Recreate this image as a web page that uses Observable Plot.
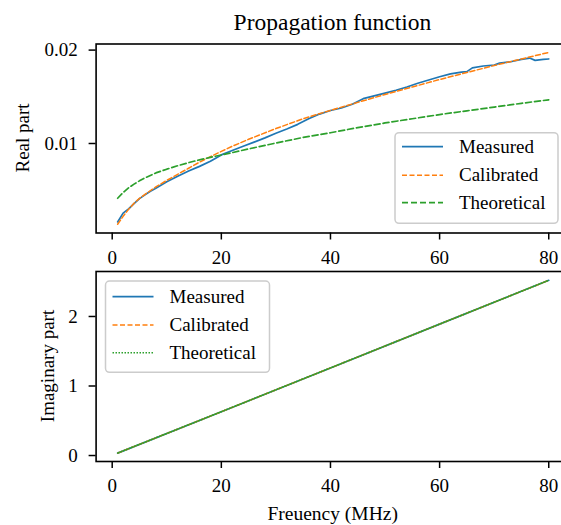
<!DOCTYPE html>
<html>
<head>
<meta charset="utf-8">
<script src="https://cdn.jsdelivr.net/npm/d3@7"></script>
<script src="https://cdn.jsdelivr.net/npm/@observablehq/plot@0.6"></script>
<style>
  html, body { margin: 0; padding: 0; background: white; overflow: hidden; }
  #wrap { position: relative; width: 561px; height: 525px; overflow: hidden; background: white; }
  #title { position: absolute; left: 0; top: 9px; width: 665px; text-align: center;
           font-family: "Liberation Serif", "Times New Roman", Times, serif; font-size: 23.5px; color: black; line-height: 26px; }
  #p1 { position: absolute; left: 0; top: 0; }
  #p2 { position: absolute; left: 0; top: 268px; }
  svg, svg text { font-family: "Liberation Serif", "Times New Roman", Times, serif !important; }
</style>
</head>
<body>
<div id="wrap">
  <div id="p1"></div>
  <div id="p2"></div>
  <div id="title">Propagation function</div>
</div>
<script>
// ---- data ----
const seriesNames = ["Measured", "Calibrated", "Theoretical"];
const xTicks = [0, 20, 40, 60, 80];
const realTicks = [0.01, 0.02];
const imagTicks = [0, 1, 2];

const freqMeasured = [1, 2, 3, 4, 5, 6, 7, 8, 9, 10, 12, 14, 16, 18, 20, 22, 24, 26, 28, 30, 32, 34, 36, 38, 40, 42, 44, 46, 48, 50, 52, 54, 56, 58, 60, 62, 64, 65, 66, 68, 70, 71, 73, 75, 76.5, 77.5, 79, 80];
const realMeasured = [0.00160, 0.00255, 0.00300, 0.00355, 0.00410, 0.00450, 0.00489, 0.00520, 0.00555, 0.00590, 0.00650, 0.00705, 0.00755, 0.00810, 0.00878, 0.00925, 0.00970, 0.01015, 0.01060, 0.01110, 0.01155, 0.01205, 0.01265, 0.01315, 0.01353, 0.01380, 0.01420, 0.01480, 0.01510, 0.01540, 0.01570, 0.01605, 0.01645, 0.01680, 0.01715, 0.01745, 0.01765, 0.01770, 0.01810, 0.01830, 0.01840, 0.01860, 0.01875, 0.01900, 0.01915, 0.01890, 0.01900, 0.01905];

const freqModel = [1, 2, 3, 4, 5, 6, 8, 10, 12, 14, 16, 18, 20, 22, 25, 30, 35, 40, 45, 50, 55, 60, 65, 70, 75, 80];
const realCalibrated = [0.00135, 0.00220, 0.00295, 0.00360, 0.00412, 0.00455, 0.00535, 0.00605, 0.00670, 0.00735, 0.00800, 0.00860, 0.00915, 0.00970, 0.01045, 0.01160, 0.01265, 0.01355, 0.01440, 0.01525, 0.01605, 0.01685, 0.01760, 0.01835, 0.01905, 0.01975];
const realTheoretical = [0.00414, 0.00475, 0.00525, 0.00565, 0.00600, 0.00632, 0.00685, 0.00725, 0.00762, 0.00795, 0.00825, 0.00852, 0.00877, 0.00902, 0.00942, 0.01005, 0.01065, 0.01115, 0.01170, 0.01220, 0.01265, 0.01310, 0.01350, 0.01390, 0.01430, 0.01468];

const freqImag = [1, 20, 40, 60, 80];
const imagMeasured = [0.035, 0.63, 1.26, 1.89, 2.52];
const imagCalibrated = [0.035, 0.63, 1.26, 1.89, 2.52];
const imagTheoretical = [0.035, 0.63, 1.26, 1.89, 2.52];

const colors = ["#1f77b4", "#ff7f0e", "#2ca02c"];
const zip = (xs, ys) => xs.map((x, i) => ({f: x, v: ys[i]}));

const font = '"Liberation Serif", "Times New Roman", Times, serif';
const baseStyle = {fontFamily: font, fontSize: "19px", color: "black", background: "white"};

// ---- top panel ----
const topStyles = [
  {stroke: colors[0], strokeWidth: 1.7},
  {stroke: colors[1], strokeWidth: 1.5, strokeDasharray: "5,2.5"},
  {stroke: colors[2], strokeWidth: 1.7, strokeDasharray: "6,3"}
];
const p1 = Plot.plot({
  width: 561, height: 268,
  marginLeft: 95.6, marginRight: -8.8, marginTop: 43.5, marginBottom: 35.5,
  style: baseStyle,
  x: {domain: [-2.95, 83.95]},
  y: {domain: [0.000417, 0.020653]},
  marks: [
    Plot.line(zip(freqMeasured, realMeasured), {x: "f", y: "v", ...topStyles[0]}),
    Plot.line(zip(freqModel, realCalibrated), {x: "f", y: "v", ...topStyles[1]}),
    Plot.line(zip(freqModel, realTheoretical), {x: "f", y: "v", ...topStyles[2]}),
    Plot.axisX({ticks: xTicks, tickSize: 7, tickPadding: 10, label: null, strokeWidth: 1.5}),
    Plot.axisY({ticks: realTicks, tickFormat: d => d.toFixed(2), tickSize: 7, tickPadding: 11.3, label: null, strokeWidth: 1.5}),
    Plot.frame({stroke: "black", strokeWidth: 1.6})
  ]
});
document.getElementById("p1").appendChild(p1);

// ---- bottom panel ----
const botStyles = [
  {stroke: colors[0], strokeWidth: 1.7},
  {stroke: colors[1], strokeWidth: 1.5, strokeDasharray: "5,2.5"},
  {stroke: colors[2], strokeWidth: 1.5, strokeDasharray: "1.5,1.5"}
];
const p2 = Plot.plot({
  width: 561, height: 257,
  marginLeft: 95.6, marginRight: -8.8, marginTop: 3, marginBottom: 64,
  style: baseStyle,
  x: {domain: [-2.95, 83.95]},
  y: {domain: [-0.086, 2.647]},
  marks: [
    Plot.line(zip(freqImag, imagMeasured), {x: "f", y: "v", ...botStyles[0]}),
    Plot.line(zip(freqImag, imagCalibrated), {x: "f", y: "v", ...botStyles[1]}),
    Plot.line(zip(freqImag, imagTheoretical), {x: "f", y: "v", ...botStyles[2]}),
    Plot.axisX({ticks: xTicks, tickSize: 7, tickPadding: 10, label: null, strokeWidth: 1.5}),
    Plot.axisY({ticks: imagTicks, tickFormat: d => String(d), tickSize: 7, tickPadding: 11.3, label: null, strokeWidth: 1.5}),
    Plot.frame({stroke: "black", strokeWidth: 1.6})
  ]
});
document.getElementById("p2").appendChild(p2);

// ---- labels and legends ----
function yLabel(svg, text, cx, cy) {
  d3.select(svg).append("text")
    .attr("transform", `translate(${cx},${cy}) rotate(-90)`)
    .attr("text-anchor", "middle").attr("dy", "0.35em")
    .attr("font-size", 19).attr("fill", "black").text(text);
}
yLabel(p1, "Real part", 22, 138);
yLabel(p2, "Imaginary part", 47, 98);
d3.select(p2).append("text")
  .attr("x", 332.7).attr("y", 252).attr("text-anchor", "middle")
  .attr("font-size", 19.5).attr("fill", "black").text("Freuency (MHz)");

function legend(svg, x, y, w, h, rows, styles) {
  const g = d3.select(svg).append("g");
  g.append("rect").attr("x", x).attr("y", y).attr("width", w).attr("height", h)
    .attr("rx", 4).attr("fill", "white").attr("fill-opacity", 0.8)
    .attr("stroke", "#cccccc").attr("stroke-width", 1.5);
  seriesNames.forEach((name, i) => {
    const ry = rows[i];
    const s = styles[i];
    g.append("line").attr("x1", x + 7).attr("x2", x + 48).attr("y1", ry).attr("y2", ry)
      .attr("stroke", s.stroke).attr("stroke-width", s.strokeWidth)
      .attr("stroke-dasharray", s.strokeDasharray || null);
    g.append("text").attr("x", x + 64).attr("y", ry).attr("dy", "0.33em")
      .attr("text-anchor", "start")
      .attr("font-size", 19).attr("fill", "black").text(name);
  });
}
legend(p1, 395, 132.7, 163, 90.6, [146.7, 175.2, 202.7], topStyles);
legend(p2, 105.5, 281 - 268, 164, 91.3, [296.7 - 268, 325 - 268, 352.7 - 268], botStyles);
</script>
</body>
</html>
